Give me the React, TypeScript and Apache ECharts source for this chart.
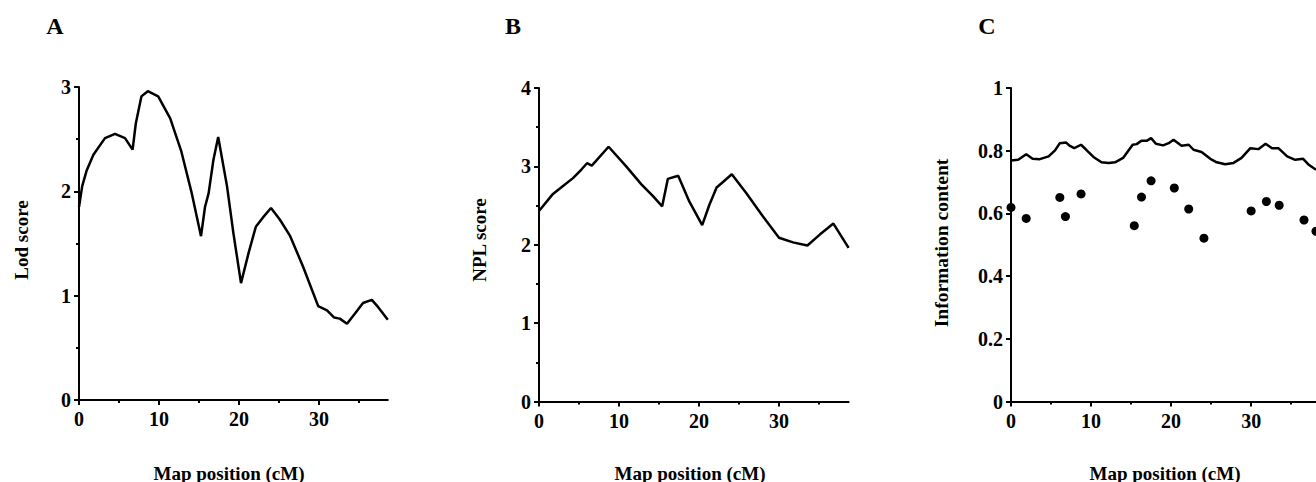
import React, { useEffect, useRef } from "react";
import * as echarts from "echarts";

// Panel A: Lod score
const posA = [0, 0.4, 0.96, 1.8, 3.25, 4.5, 5.75, 6.7, 7.1, 7.8, 8.6, 9.9, 11.4, 12.8, 14.1, 15.25, 15.75, 16.2, 16.8, 17.4, 18.5, 19.3, 20.25, 21.2, 22.1, 23, 24, 25.1, 26.4, 28, 29.9, 31, 31.9, 32.6, 33.5, 34.5, 35.5, 36.6, 37.4, 38.6];
const lodA = [1.85, 2.05, 2.2, 2.35, 2.51, 2.55, 2.51, 2.4, 2.65, 2.91, 2.96, 2.91, 2.7, 2.38, 1.98, 1.57, 1.85, 1.98, 2.3, 2.52, 2.05, 1.6, 1.12, 1.41, 1.66, 1.75, 1.84, 1.73, 1.57, 1.28, 0.9, 0.86, 0.79, 0.78, 0.73, 0.83, 0.93, 0.96, 0.89, 0.77];

// Panel B: NPL score
const posB = [0, 1.67, 3, 4.25, 5.3, 6, 6.6, 8.7, 10.9, 12.8, 14.25, 15.4, 16.1, 17.4, 18.8, 20.4, 21.3, 22.2, 23, 24.1, 25.9, 28, 30, 31.75, 33.55, 35.1, 36.8, 38.7];
const nplB = [2.43, 2.64, 2.75, 2.85, 2.96, 3.04, 3.01, 3.25, 3.0, 2.77, 2.62, 2.49, 2.84, 2.88, 2.55, 2.25, 2.51, 2.73, 2.8, 2.9, 2.66, 2.36, 2.09, 2.03, 1.99, 2.13, 2.27, 1.96];

// Panel C: information content (line) and per-marker values (dots)
const posC = [0, 0.9, 1.9, 2.7, 3.6, 4.7, 5.5, 6.1, 6.9, 7.3, 7.9, 8.75, 9.4, 10.3, 11.3, 12.2, 13, 14, 15.2, 15.7, 16.3, 17, 17.5, 18.1, 19, 19.7, 20.3, 21.3, 22.2, 22.8, 23.8, 24.9, 25.7, 26.75, 27.8, 28.8, 29.9, 30.9, 31.8, 32.6, 33.4, 34.5, 35.5, 36.5, 37.2, 38.1];
const infoC = [0.769, 0.771, 0.789, 0.774, 0.773, 0.782, 0.801, 0.824, 0.826, 0.816, 0.808, 0.819, 0.803, 0.78, 0.763, 0.761, 0.763, 0.777, 0.819, 0.821, 0.832, 0.832, 0.84, 0.822, 0.817, 0.824, 0.835, 0.816, 0.819, 0.803, 0.796, 0.774, 0.763, 0.757, 0.761, 0.777, 0.808, 0.805, 0.822, 0.808, 0.808, 0.782, 0.771, 0.774, 0.755, 0.739];
const dotPos = [0, 1.9, 6.1, 6.8, 8.75, 15.4, 16.3, 17.5, 20.4, 22.2, 24.1, 30, 31.9, 33.5, 36.6, 38.1];
const dotInfo = [0.619, 0.584, 0.651, 0.59, 0.662, 0.561, 0.652, 0.704, 0.681, 0.614, 0.521, 0.608, 0.638, 0.626, 0.579, 0.543];

const majorX = [0, 10, 20, 30];
const minorX = [5, 15, 25, 35];

const FONT = "'Liberation Serif', 'Times New Roman', serif";

export default function App() {
  const ref = useRef<HTMLDivElement>(null);
  useEffect(() => {
    if (!ref.current) return;
    const chart = echarts.init(ref.current, undefined, { renderer: "svg" });

    const grids = [
      { left: 79, top: 87, width: 38.6 * 8, height: 313, xmax: 38.6 },
      { left: 539, top: 88, width: 38.7 * 8, height: 313.5, xmax: 38.7 },
      { left: 1011, top: 88, width: 305, height: 313.5, xmax: 38.1 },
    ];
    const yCfg = [
      { max: 3, interval: 1, minor: true },
      { max: 4, interval: 1, minor: true },
      { max: 1, interval: 0.2, minor: false },
    ];

    const xAxes: any[] = [];
    grids.forEach((g, i) => {
      xAxes.push({
        type: "value",
        gridIndex: i,
        position: "bottom",
        min: 0,
        max: g.xmax,
        splitLine: { show: false },
        axisLine: { lineStyle: { color: "#000", width: 2 } },
        axisTick: { customValues: majorX, length: 5, lineStyle: { color: "#000", width: 2 } },
        axisLabel: { customValues: majorX, color: "#000", fontFamily: FONT, fontSize: 20, fontWeight: "bold", margin: 9 },
      });
    });
    grids.forEach((g, i) => {
      xAxes.push({
        type: "value",
        gridIndex: i,
        position: "bottom",
        offset: 0,
        min: 0,
        max: g.xmax,
        splitLine: { show: false },
        axisLine: { show: false },
        axisTick: { customValues: minorX, length: 3, lineStyle: { color: "#000", width: 2 } },
        axisLabel: { show: false },
      });
    });

    const yAxes = yCfg.map((c, i) => ({
      type: "value",
      gridIndex: i,
      min: 0,
      max: c.max,
      interval: c.interval,
      splitLine: { show: false },
      axisLine: { show: true, lineStyle: { color: "#000", width: 2 } },
      axisTick: { show: true, length: 5, lineStyle: { color: "#000", width: 2 } },
      minorTick: { show: c.minor, splitNumber: 2, length: 3, lineStyle: { color: "#000", width: 2 } },
      axisLabel: { color: "#000", fontFamily: FONT, fontSize: 20, fontWeight: "bold", margin: 8 },
    }));

    const lineStyle = { color: "#000", width: 2.5 };
    const mkText = (text: string, x: number, y: number, size: number, rot = 0) => ({
      type: "text",
      x,
      y,
      rotation: rot,
      style: {
        text,
        fill: "#000",
        font: `bold ${size}px ${FONT}`,
        textAlign: "center",
        textVerticalAlign: "middle",
      },
    });

    chart.setOption({
      animation: false,
      backgroundColor: "#fff",
      grid: grids.map((g) => ({ left: g.left, top: g.top, width: g.width, height: g.height, outerBoundsMode: "none", containLabel: false })),
      xAxis: xAxes,
      yAxis: yAxes,
      series: [
        {
          type: "line",
          xAxisIndex: 0,
          yAxisIndex: 0,
          data: posA.map((x, i) => [x, lodA[i]]),
          showSymbol: false,
          lineStyle,
          itemStyle: { color: "#000" },
        },
        {
          type: "line",
          xAxisIndex: 1,
          yAxisIndex: 1,
          data: posB.map((x, i) => [x, nplB[i]]),
          showSymbol: false,
          lineStyle,
          itemStyle: { color: "#000" },
        },
        {
          type: "line",
          xAxisIndex: 2,
          yAxisIndex: 2,
          data: posC.map((x, i) => [x, infoC[i]]),
          showSymbol: false,
          lineStyle,
          itemStyle: { color: "#000" },
        },
        {
          type: "scatter",
          xAxisIndex: 2,
          yAxisIndex: 2,
          data: dotPos.map((x, i) => [x, dotInfo[i]]),
          symbolSize: 9,
          clip: false,
          itemStyle: { color: "#000", opacity: 1 },
        },
      ],
      graphic: [
        mkText("A", 55, 26, 24),
        mkText("B", 513, 26, 24),
        mkText("C", 987, 26, 24),
        mkText("Lod score", 21, 240, 19, Math.PI / 2),
        mkText("NPL score", 479, 240, 19, Math.PI / 2),
        mkText("Information content", 941, 243, 19.5, Math.PI / 2),
        mkText("Map position (cM)", 229, 473, 19),
        mkText("Map position (cM)", 690, 473, 19),
        mkText("Map position (cM)", 1165, 473, 19),
      ],
    });
    return () => chart.dispose();
  }, []);
  return (
    <div
      ref={ref}
      style={{ position: "fixed", left: 0, top: 0, width: 1316, height: 482, overflow: "hidden" }}
    />
  );
}
